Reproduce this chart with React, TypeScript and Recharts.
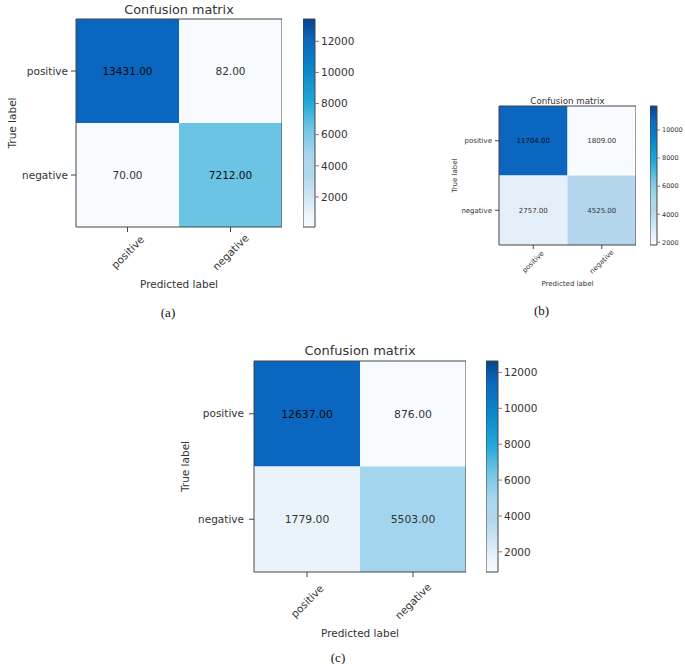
import { ScatterChart, Scatter, XAxis, YAxis, ReferenceArea } from 'recharts'

const labels = ['positive', 'negative']
const matrixA = [[13431, 82], [70, 7212]]
const matrixB = [[11704, 1809], [2757, 4525]]
const matrixC = [[12637, 876], [1779, 5503]]
const barTicksA = [2000, 4000, 6000, 8000, 10000, 12000]
const barTicksB = [2000, 4000, 6000, 8000, 10000]
const barTicksC = [2000, 4000, 6000, 8000, 10000, 12000]
const captions = ['(a)', '(b)', '(c)']

// Blues-like colormap, tuned to the scanned figure
const STOPS: [number, string][] = [
  [0, '#f7fbff'],
  [0.07, '#eaf3fa'],
  [0.1, '#deedf8'],
  [0.25, '#b2d6ec'],
  [0.35, '#a6d6ee'],
  [0.48, '#6cc4e4'],
  [0.6, '#20a8d8'],
  [0.75, '#0a88cc'],
  [0.9, '#0a66be'],
  [1, '#08448e'],
]

const hex = (c: string) => [1, 3, 5].map((i) => parseInt(c.slice(i, i + 2), 16))

function cmap(t: number) {
  t = Math.max(0, Math.min(1, t))
  for (let i = 1; i < STOPS.length; i++) {
    const [t1, c1] = STOPS[i]
    const [t0, c0] = STOPS[i - 1]
    if (t <= t1) {
      const f = (t - t0) / (t1 - t0)
      const a = hex(c0)
      const b = hex(c1)
      const m = a.map((v, k) => Math.round(v + (b[k] - v) * f))
      return `rgb(${m[0]},${m[1]},${m[2]})`
    }
  }
  return STOPS[STOPS.length - 1][1]
}

const TXT = '#333'
const FRAME = '#444'

const layouts = [
  { left: 0, top: 0, yAxisW: 76, plotW: 206, plotH: 208, mTop: 19, xAxisH: 93, fs: 10.5, titleFs: 12.8, cellFs: 10.5, titleOff: 5, tickSize: 5, tickMargin: 3, xTickOff: 18, yTitleX: 12, xTitleDy: 57, capDy: 85, capDx: -11, bar: { left: 303, w: 12, labelW: 55, fs: 10.5, tick: 4 } },
  { left: 420, top: 90, yAxisW: 79, plotW: 137, plotH: 139, mTop: 16, xAxisH: 78, fs: 7, titleFs: 8.7, cellFs: 7, titleOff: 2, tickSize: 4, tickMargin: 3, xTickOff: 11, yTitleX: 35, xTitleDy: 39, capDy: 65, capDx: -26, bar: { left: 650, w: 7, labelW: 35, fs: 6.5, tick: 3 } },
  { left: 170, top: 340, yAxisW: 84, plotW: 212, plotH: 211, mTop: 21, xAxisH: 92, fs: 10.5, titleFs: 13, cellFs: 10.8, titleOff: 6, tickSize: 5, tickMargin: 5, xTickOff: 22, yTitleX: 15, xTitleDy: 61, capDy: 85, capDx: -22, bar: { left: 486, w: 12, labelW: 55, fs: 10.5, tick: 4 } },
]

type L = (typeof layouts)[number]

function Matrix({ m, ticks, caption, L, id }: { m: number[][]; ticks: number[]; caption: string; L: L; id: string }) {
  const flat = m.flat()
  const lo = Math.min(...flat)
  const hi = Math.max(...flat)
  const cells = m.flatMap((row, i) => row.map((v, j) => ({ x: j, y: i, v })))
  const height = L.mTop + L.plotH + L.xAxisH

  const xTick = (p: any) => {
    const cy = p.y + L.xTickOff
    return (
      <text x={p.x} y={cy} textAnchor="middle" dominantBaseline="central" fontSize={L.fs} fill={TXT}
        transform={`rotate(-45 ${p.x} ${cy})`}>
        {labels[p.payload.value]}
      </text>
    )
  }

  const xTitle = (p: any) => {
    const vb = p.viewBox ?? p
    const cx = vb.x + vb.width / 2
    return (
      <g>
        <text x={cx} y={vb.y + L.xTitleDy} textAnchor="middle" dominantBaseline="central" fontSize={L.fs} fill={TXT}>
          Predicted label
        </text>
        <text x={cx + L.capDx} y={vb.y + L.capDy} textAnchor="middle" dominantBaseline="central" fontSize={13}
          fill="#111" fontFamily="'Liberation Serif', 'DejaVu Serif', serif">
          {caption}
        </text>
      </g>
    )
  }

  const yTitle = (p: any) => {
    const vb = p.viewBox ?? p
    const cx = vb.x + L.yTitleX
    const cy = vb.y + vb.height / 2
    return (
      <text x={cx} y={cy} textAnchor="middle" dominantBaseline="central" fontSize={L.fs} fill={TXT}
        transform={`rotate(-90 ${cx} ${cy})`}>
        True label
      </text>
    )
  }

  return (
    <>
      <div style={{ position: 'absolute', left: L.left, top: L.top }}>
        <ScatterChart width={L.yAxisW + L.plotW} height={height} margin={{ top: L.mTop, right: 0, bottom: 0, left: 0 }}>
          <XAxis type="number" dataKey="x" domain={[-0.5, 1.5]} ticks={[0, 1]} interval={0} height={L.xAxisH}
            axisLine={false} tickLine={{ stroke: FRAME }} tickSize={L.tickSize} tickMargin={2} tick={xTick} label={xTitle} />
          <YAxis type="number" dataKey="y" domain={[-0.5, 1.5]} ticks={[0, 1]} interval={0} reversed width={L.yAxisW}
            axisLine={false} tickLine={{ stroke: FRAME }} tickSize={L.tickSize} tickMargin={L.tickMargin}
            tickFormatter={(v: number) => labels[v]} tick={{ fontSize: L.fs, fill: TXT }} label={yTitle} />
          {cells.map((c) => {
            const t = (c.v - lo) / (hi - lo)
            return (
              <ReferenceArea key={`${c.x}-${c.y}`} x1={c.x - 0.5} x2={c.x + 0.5} y1={c.y - 0.5} y2={c.y + 0.5}
                fill={cmap(t * 0.9)} fillOpacity={1} stroke="none"
                label={{ value: c.v.toFixed(2), position: 'center', fontSize: L.cellFs, fill: t > 0.5 ? '#0a0a0a' : TXT }} />
            )
          })}
          <ReferenceArea x1={-0.5} x2={1.5} y1={-0.5} y2={1.5} fill="none" fillOpacity={0} stroke={FRAME} strokeWidth={1}
            label={{ value: 'Confusion matrix', position: 'top', offset: L.titleOff, fontSize: L.titleFs, fill: TXT }} />
          <Scatter data={cells} fill="transparent" isAnimationActive={false} />
        </ScatterChart>
      </div>
      <div style={{ position: 'absolute', left: L.bar.left, top: L.top }}>
        <ScatterChart width={L.bar.w + L.bar.labelW} height={height} margin={{ top: L.mTop, right: 0, bottom: L.xAxisH, left: 0 }}>
          <defs>
            <linearGradient id={id} x1="0" y1="1" x2="0" y2="0">
              {STOPS.map(([o, c]) => (
                <stop key={o} offset={o} stopColor={c} />
              ))}
            </linearGradient>
          </defs>
          <XAxis type="number" dataKey="x" domain={[0, 1]} hide />
          <YAxis type="number" dataKey="y" orientation="right" domain={[lo, hi]} ticks={ticks} interval={0} width={L.bar.labelW}
            axisLine={false} tickLine={{ stroke: '#a0705a' }} tickSize={L.bar.tick} tickMargin={2}
            tick={{ fontSize: L.bar.fs, fill: TXT, textAnchor: 'start' }} />
          <ReferenceArea x1={0} x2={1} y1={lo} y2={hi} fill={`url(#${id})`} fillOpacity={1} stroke={FRAME} strokeWidth={1} />
          <Scatter data={[{ x: 0.5, y: lo }, { x: 0.5, y: hi }]} fill="transparent" isAnimationActive={false} />
        </ScatterChart>
      </div>
    </>
  )
}

export default function App() {
  return (
    <div style={{ position: 'absolute', left: 0, top: 0, width: 685, height: 664, background: '#fff', fontFamily: "'DejaVu Sans', sans-serif", overflow: 'hidden' }}>
      <Matrix m={matrixA} ticks={barTicksA} caption={captions[0]} L={layouts[0]} id="cbA" />
      <Matrix m={matrixB} ticks={barTicksB} caption={captions[1]} L={layouts[1]} id="cbB" />
      <Matrix m={matrixC} ticks={barTicksC} caption={captions[2]} L={layouts[2]} id="cbC" />
    </div>
  )
}
